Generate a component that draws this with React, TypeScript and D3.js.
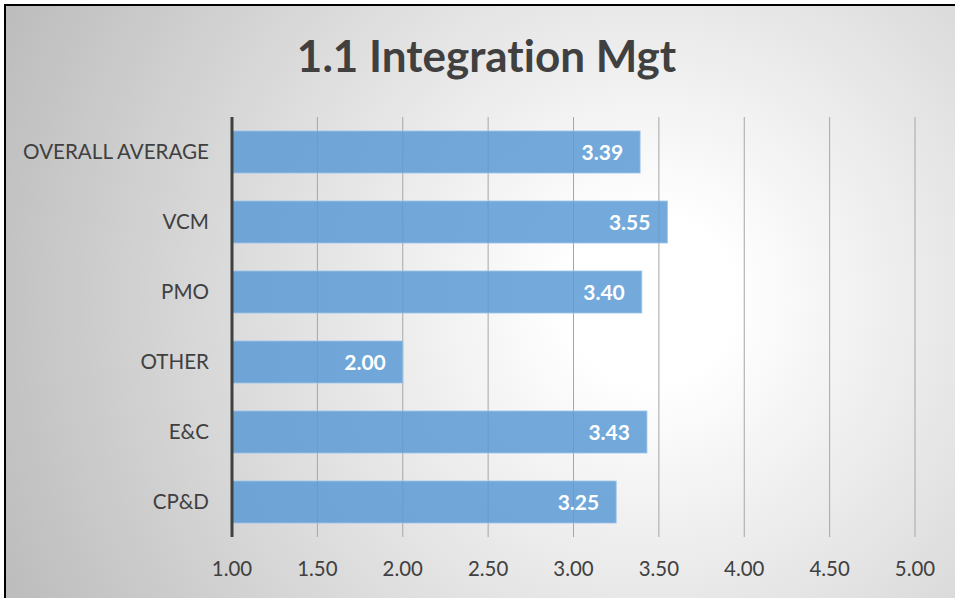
import React from "react";
import * as d3 from "d3";

const categories = ["OVERALL AVERAGE", "VCM", "PMO", "OTHER", "E&C", "CP&D"];
const values = [3.39, 3.55, 3.4, 2.0, 3.43, 3.25];
const ticks = [1.0, 1.5, 2.0, 2.5, 3.0, 3.5, 4.0, 4.5, 5.0];
const title = "1.1 Integration Mgt";

const W = 955;
const H = 598;
const FONT = "Lato, 'Open Sans', sans-serif";

export default function App() {
  const x = d3.scaleLinear().domain([1, 5]).range([232, 915]);
  const y = d3
    .scaleBand<string>()
    .domain(categories)
    .range([117, 537])
    .paddingInner(0.4)
    .paddingOuter(0.2);
  const [y0, y1] = y.range();

  return (
    <svg
      width={W}
      height={H}
      style={{
        position: "absolute",
        left: 0,
        top: 0,
        display: "block",
        fontVariantLigatures: "none",
        fontFeatureSettings: "'liga' 0, 'clig' 0",
      }}
    >
      <defs>
        <radialGradient
          id="bg"
          gradientUnits="userSpaceOnUse"
          cx={650}
          cy={300}
          r={700}
        >
          <stop offset="0" stopColor="#ffffff" />
          <stop offset="0.12" stopColor="#ffffff" />
          <stop offset="1" stopColor="#bdbdbd" />
        </radialGradient>
      </defs>
      <rect x={0} y={0} width={W} height={H} fill="#ffffff" />
      <rect
        x={5}
        y={5}
        width={W + 10}
        height={H + 10}
        fill="url(#bg)"
        stroke="#000000"
        strokeWidth={2}
      />
      <text
        x={486.5}
        y={71.5}
        textAnchor="middle"
        fontFamily={FONT}
        fontWeight={700}
        fontSize={44}
        fill="#404040"
      >
        {title}
      </text>
      {ticks.slice(1).map((t) => (
        <line
          key={"g" + t}
          x1={x(t)}
          x2={x(t)}
          y1={y0}
          y2={y1}
          stroke="#a6a6a6"
          strokeWidth={1}
        />
      ))}
      {categories.map((c, i) => (
        <rect
          key={"b" + c}
          x={x(1)}
          y={y(c)}
          width={x(values[i]) - x(1)}
          height={y.bandwidth()}
          fill="#5b9bd5"
          fillOpacity={0.85}
          stroke="#9dc3e6"
          strokeOpacity={0.8}
          strokeWidth={1}
        />
      ))}
      {categories.map((c, i) => (
        <text
          key={"v" + c}
          x={x(values[i]) - 17}
          y={(y(c) as number) + y.bandwidth() / 2}
          dy="0.36em"
          textAnchor="end"
          fontFamily={FONT}
          fontWeight={700}
          fontSize={21}
          fill="#ffffff"
        >
          {values[i].toFixed(2)}
        </text>
      ))}
      <line
        x1={x(1)}
        x2={x(1)}
        y1={y0}
        y2={y1}
        stroke="#404040"
        strokeWidth={3}
      />
      {categories.map((c) => (
        <text
          key={"c" + c}
          x={209}
          y={(y(c) as number) + y.bandwidth() / 2}
          dy="0.36em"
          textAnchor="end"
          fontFamily={FONT}
          fontSize={20.6}
          fill="#404040"
        >
          {c}
        </text>
      ))}
      {ticks.map((t) => (
        <text
          key={"t" + t}
          x={x(t)}
          y={576}
          textAnchor="middle"
          fontFamily={FONT}
          fontSize={20.4}
          fill="#404040"
        >
          {t.toFixed(2)}
        </text>
      ))}
    </svg>
  );
}
